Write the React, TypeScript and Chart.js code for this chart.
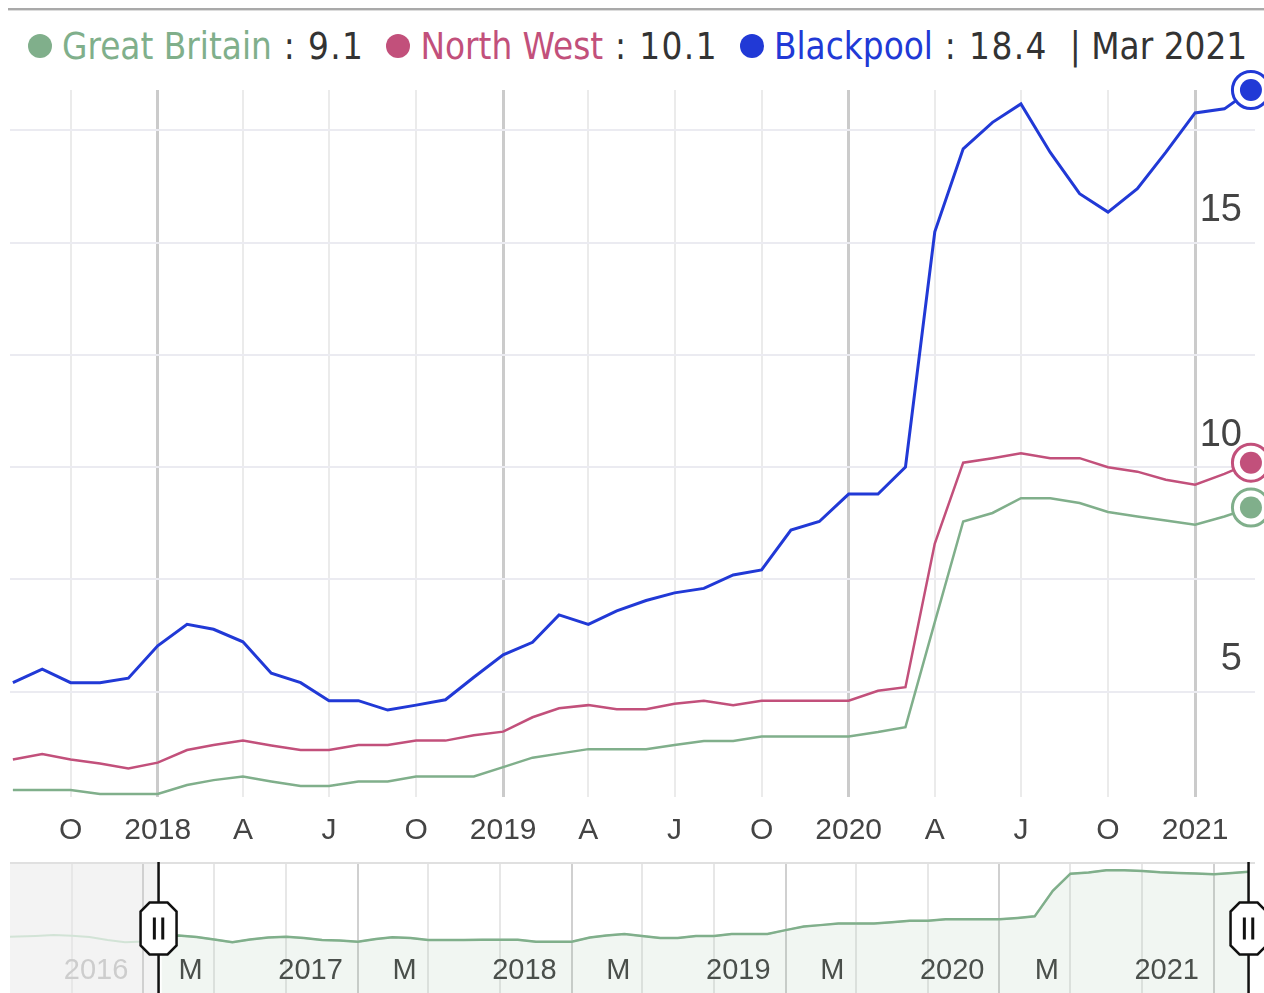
import React, { useEffect, useRef } from 'react';
import { Chart, registerables } from 'chart.js';

Chart.register(...registerables);

// ---------- data ----------
const months = [
  '2017-08', '2017-09', '2017-10', '2017-11', '2017-12',
  '2018-01', '2018-02', '2018-03', '2018-04', '2018-05', '2018-06', '2018-07', '2018-08', '2018-09', '2018-10', '2018-11', '2018-12',
  '2019-01', '2019-02', '2019-03', '2019-04', '2019-05', '2019-06', '2019-07', '2019-08', '2019-09', '2019-10', '2019-11', '2019-12',
  '2020-01', '2020-02', '2020-03', '2020-04', '2020-05', '2020-06', '2020-07', '2020-08', '2020-09', '2020-10', '2020-11', '2020-12',
  '2021-01', '2021-02', '2021-03',
];

const blackpool = [
  5.2, 5.5, 5.2, 5.2, 5.3,
  6.02, 6.5, 6.39, 6.11, 5.41, 5.2, 4.8, 4.8, 4.59, 4.7, 4.82, 5.32,
  5.82, 6.1, 6.71, 6.5, 6.8, 7.03, 7.2, 7.3, 7.6, 7.71, 8.6, 8.79,
  9.4, 9.4, 10.0, 15.24, 17.09, 17.68, 18.09, 17.01, 16.09, 15.68, 16.2, 17.01,
  17.89, 17.98, 18.4,
];

const northWest = [
  3.49, 3.61, 3.49, 3.4, 3.29,
  3.42, 3.7, 3.81, 3.91, 3.8, 3.7, 3.7, 3.81, 3.81, 3.91, 3.91, 4.03,
  4.11, 4.43, 4.63, 4.7, 4.61, 4.61, 4.73, 4.8, 4.7, 4.8, 4.8, 4.8,
  4.8, 5.02, 5.1, 8.3, 10.1, 10.2, 10.31, 10.2, 10.2, 10.0, 9.9, 9.72,
  9.61, 9.85, 10.1,
];

const greatBritain = [
  2.81, 2.81, 2.81, 2.72, 2.72,
  2.72, 2.92, 3.03, 3.11, 3.0, 2.9, 2.9, 3.0, 3.0, 3.11, 3.11, 3.11,
  3.32, 3.53, 3.62, 3.72, 3.72, 3.72, 3.81, 3.9, 3.9, 4.0, 4.0, 4.0,
  4.0, 4.1, 4.21, 6.55, 8.79, 8.98, 9.31, 9.31, 9.2, 9.0, 8.9, 8.81,
  8.72, 8.9, 9.1,
];

// earlier Great Britain history, only visible in the range navigator
const earlyMonths = [
  '2015-05', '2015-06', '2015-07', '2015-08', '2015-09', '2015-10', '2015-11', '2015-12',
  '2016-01', '2016-02', '2016-03', '2016-04', '2016-05', '2016-06', '2016-07', '2016-08', '2016-09', '2016-10', '2016-11', '2016-12',
  '2017-01', '2017-02', '2017-03', '2017-04', '2017-05', '2017-06', '2017-07',
];
const earlyGreatBritain = [
  2.95, 2.97, 3.0, 3.05, 3.02, 2.95, 2.8, 2.7,
  2.73, 2.9, 3.03, 2.95, 2.82, 2.7, 2.82, 2.93, 2.96, 2.9, 2.8, 2.78,
  2.72, 2.85, 2.94, 2.9, 2.8, 2.8, 2.8,
];

const mainTickMonths = [
  '2017-10', '2018-01', '2018-04', '2018-07', '2018-10', '2019-01', '2019-04',
  '2019-07', '2019-10', '2020-01', '2020-04', '2020-07', '2020-10', '2021-01',
];
const mainTickLabels = ['O', '2018', 'A', 'J', 'O', '2019', 'A', 'J', 'O', '2020', 'A', 'J', 'O', '2021'];

const yGridValues = [5, 7.5, 10, 12.5, 15, 17.5];
const yTickLabels = ['5', '', '10', '', '15', ''];

const navGridMonths = [
  '2015-09', '2016-01', '2016-05', '2016-09', '2017-01', '2017-05', '2017-09', '2018-01', '2018-05', '2018-09',
  '2019-01', '2019-05', '2019-09', '2020-01', '2020-05', '2020-09', '2021-01',
];
const navYearMonths = ['2016-01', '2017-01', '2018-01', '2019-01', '2020-01', '2021-01'];
const navYearLabels = ['2016', '2017', '2018', '2019', '2020', '2021'];
const navMarchMonths = ['2016-03', '2017-03', '2018-03', '2019-03', '2020-03'];
const navMarchLabels = ['M', 'M', 'M', 'M', 'M'];

const seriesNames = ['Great Britain', 'North West', 'Blackpool'];
const monthNames = ['Jan', 'Feb', 'Mar', 'Apr', 'May', 'Jun', 'Jul', 'Aug', 'Sep', 'Oct', 'Nov', 'Dec'];

// ---------- styles ----------
const GREEN = '#80af8b';
const PINK = '#c2507b';
const BLUE = '#2139d6';
const AXIS_FONT = "'Liberation Sans', Arial, sans-serif";

const dayOf = (ym: string): number => {
  const [y, m] = ym.split('-').map(Number);
  return (Date.UTC(y, m - 1, 1) - Date.UTC(2018, 0, 1)) / 86400000;
};

const MAIN_MIN = -156.05;
const MAIN_MAX = 1159.3;
const NAV_MIN = -958.5;
const NAV_MAX = 1166;
const NAV_SEL_START = -705;

const endDots = {
  id: 'endDots',
  afterDatasetsDraw(chart: any) {
    const ctx = chart.ctx;
    chart.data.datasets.forEach((ds: any, i: number) => {
      const meta = chart.getDatasetMeta(i);
      const pt = meta.data[meta.data.length - 1];
      if (!pt) return;
      ctx.save();
      ctx.beginPath();
      ctx.arc(pt.x, pt.y, 11, 0, Math.PI * 2);
      ctx.fillStyle = ds.borderColor;
      ctx.fill();
      ctx.restore();
    });
  },
};

const drawHandle = (ctx: CanvasRenderingContext2D, x: number, top: number, bottom: number) => {
  const cy = top + 66.5;
  const w = 36;
  const h = 52;
  const c = 9;
  ctx.save();
  ctx.strokeStyle = '#111';
  ctx.lineWidth = 2.5;
  ctx.beginPath();
  ctx.moveTo(x, top);
  ctx.lineTo(x, bottom);
  ctx.stroke();
  ctx.beginPath();
  ctx.moveTo(x - w / 2 + c, cy - h / 2);
  ctx.lineTo(x + w / 2 - c, cy - h / 2);
  ctx.lineTo(x + w / 2, cy - h / 2 + c);
  ctx.lineTo(x + w / 2, cy + h / 2 - c);
  ctx.lineTo(x + w / 2 - c, cy + h / 2);
  ctx.lineTo(x - w / 2 + c, cy + h / 2);
  ctx.lineTo(x - w / 2, cy + h / 2 - c);
  ctx.lineTo(x - w / 2, cy - h / 2 + c);
  ctx.closePath();
  ctx.fillStyle = '#fff';
  ctx.fill();
  ctx.stroke();
  ctx.lineWidth = 3;
  ctx.beginPath();
  ctx.moveTo(x - 4.2, cy - 11);
  ctx.lineTo(x - 4.2, cy + 11);
  ctx.moveTo(x + 4.2, cy - 11);
  ctx.lineTo(x + 4.2, cy + 11);
  ctx.stroke();
  ctx.restore();
};

const navDecor = {
  id: 'navDecor',
  beforeDraw(chart: any) {
    const { ctx, chartArea: a, scales } = chart;
    const xs = scales.x.getPixelForValue(NAV_SEL_START);
    ctx.save();
    ctx.fillStyle = '#f3f3f3';
    ctx.fillRect(a.left, a.top, xs - a.left, a.bottom - a.top);
    ctx.restore();
  },
  afterDraw(chart: any) {
    const { ctx, chartArea: a, scales } = chart;
    ctx.save();
    ctx.strokeStyle = '#e0e0e0';
    ctx.lineWidth = 2;
    ctx.beginPath();
    ctx.moveTo(a.left, a.top + 1);
    ctx.lineTo(a.right, a.top + 1);
    ctx.stroke();
    ctx.restore();
    drawHandle(ctx, scales.x.getPixelForValue(NAV_SEL_START), a.top, a.bottom);
    drawHandle(ctx, scales.x.getPixelForValue(dayOf(months[months.length - 1])), a.top, a.bottom);
  },
};

const mkSeries = (values: number[], color: string, width: number) => ({
  data: months.map((m, i) => ({ x: dayOf(m), y: values[i] })),
  borderColor: color,
  borderWidth: width,
  fill: false,
  tension: 0,
  clip: false as any,
  pointRadius: (c: any) => (c.dataIndex === values.length - 1 ? 18.5 : 0),
  pointHoverRadius: (c: any) => (c.dataIndex === values.length - 1 ? 18.5 : 0),
  pointBackgroundColor: '#fff',
  pointBorderColor: color,
  pointBorderWidth: 3,
  xAxisID: 'x',
  yAxisID: 'y',
});

const labelAxis = (tickMonths: string[], labels: string[], align: 'start' | 'end', offset: number) => ({
  type: 'linear' as const,
  axis: 'x' as const,
  position: { y: 1.123 },
  min: NAV_MIN,
  max: NAV_MAX,
  bounds: 'data' as const,
  z: 2,
  afterBuildTicks: (s: any) => {
    s.ticks = tickMonths.map((m) => ({ value: dayOf(m) }));
  },
  afterFit: (s: any) => {
    s.height = 0;
    s.paddingLeft = 0;
    s.paddingRight = 0;
  },
  grid: { display: false, drawTicks: false },
  border: { display: false },
  ticks: {
    autoSkip: false,
    maxRotation: 0,
    align,
    labelOffset: offset,
    padding: -39,
    color: (c: any) => (c.tick && c.tick.value < NAV_SEL_START ? '#cdcdcd' : '#444'),
    font: { family: AXIS_FONT, size: 29 },
    callback: (_v: any, i: number) => labels[i],
  },
});

export default function App() {
  const mainRef = useRef<HTMLCanvasElement>(null);
  const navRef = useRef<HTMLCanvasElement>(null);

  useEffect(() => {
    const main = new Chart(mainRef.current as HTMLCanvasElement, {
      type: 'line',
      data: {
        datasets: [
          { label: 'Blackpool', ...mkSeries(blackpool, BLUE, 3) },
          { label: 'North West', ...mkSeries(northWest, PINK, 2.5) },
          { label: 'Great Britain', ...mkSeries(greatBritain, GREEN, 2.5) },
        ] as any,
      },
      options: {
        responsive: false,
        animation: false,
        events: [],
        layout: { autoPadding: false, padding: { left: 10, right: 9, top: 26, bottom: 0 } },
        plugins: { legend: { display: false }, tooltip: { enabled: false } },
        scales: {
          x: {
            type: 'linear',
            min: MAIN_MIN,
            max: MAIN_MAX,
            bounds: 'data',
            afterBuildTicks: (s: any) => {
              s.ticks = mainTickMonths.map((m) => ({ value: dayOf(m) }));
            },
            afterFit: (s: any) => {
              s.height = 63;
              s.paddingLeft = 0;
              s.paddingRight = 0;
            },
            grid: {
              color: (c: any) => ((mainTickLabels[c.index] || '').length === 4 ? '#cbcbcb' : '#ebebeb'),
              lineWidth: (c: any) => ((mainTickLabels[c.index] || '').length === 4 ? 3 : 2),
              drawTicks: false,
            },
            border: { display: false },
            ticks: {
              autoSkip: false,
              maxRotation: 0,
              padding: 16,
              color: '#444',
              font: { family: AXIS_FONT, size: 30 },
              callback: (_v: any, i: number) => mainTickLabels[i],
            },
          },
          y: {
            type: 'linear',
            position: 'right',
            min: 2.654,
            max: 18.4,
            bounds: 'data',
            afterBuildTicks: (s: any) => {
              s.ticks = yGridValues.map((v) => ({ value: v }));
            },
            afterFit: (s: any) => {
              s.width = 0;
              s.paddingTop = 0;
              s.paddingBottom = 0;
            },
            grid: { color: '#ebebf1', lineWidth: 2, drawTicks: false },
            border: { display: false },
            ticks: {
              mirror: true,
              padding: -13,
              labelOffset: -32,
              color: '#444',
              font: { family: AXIS_FONT, size: 38 },
              callback: (_v: any, i: number) => yTickLabels[i],
            },
          },
        },
      } as any,
      plugins: [endDots],
    });

    const allGB = [
      ...earlyMonths.map((m, i) => ({ x: dayOf(m), y: earlyGreatBritain[i] })),
      ...months.map((m, i) => ({ x: dayOf(m), y: greatBritain[i] })),
    ];
    const selectedGB = allGB.filter((p) => p.x >= NAV_SEL_START);

    const nav = new Chart(navRef.current as HTMLCanvasElement, {
      type: 'line',
      data: {
        datasets: [
          {
            data: selectedGB,
            borderColor: GREEN,
            borderWidth: 2.5,
            pointRadius: 0,
            fill: 'start',
            backgroundColor: 'rgba(128,175,139,0.11)',
            tension: 0,
            xAxisID: 'x',
            yAxisID: 'y',
          },
          {
            data: allGB,
            borderColor: '#d2e3d6',
            borderWidth: 2,
            pointRadius: 0,
            fill: false,
            tension: 0,
            xAxisID: 'x',
            yAxisID: 'y',
          },
        ] as any,
      },
      options: {
        responsive: false,
        animation: false,
        events: [],
        layout: { autoPadding: false, padding: { left: 10, right: 9, top: 0, bottom: 0 } },
        plugins: { legend: { display: false }, tooltip: { enabled: false } },
        scales: {
          x: {
            type: 'linear',
            position: 'bottom',
            min: NAV_MIN,
            max: NAV_MAX,
            bounds: 'data',
            afterBuildTicks: (s: any) => {
              s.ticks = navGridMonths.map((m) => ({ value: dayOf(m) }));
            },
            afterFit: (s: any) => {
              s.height = 0;
              s.paddingLeft = 0;
              s.paddingRight = 0;
            },
            grid: {
              color: (c: any) => (navGridMonths[c.index] && navGridMonths[c.index].endsWith('-01') ? '#d0d0d0' : '#e7e7e7'),
              lineWidth: 2,
              drawTicks: false,
            },
            border: { display: false },
            ticks: { display: false },
          },
          years: labelAxis(navYearMonths, navYearLabels, 'end', -15),
          marches: labelAxis(navMarchMonths, navMarchLabels, 'start', 0),
          y: {
            type: 'logarithmic',
            min: 1.123,
            max: 10.75,
            bounds: 'data',
            display: false,
          },
        },
      } as any,
      plugins: [navDecor],
    });

    return () => {
      main.destroy();
      nav.destroy();
    };
  }, []);

  const legendItems = [
    { name: seriesNames[0], color: GREEN, value: greatBritain[greatBritain.length - 1] },
    { name: seriesNames[1], color: PINK, value: northWest[northWest.length - 1] },
    { name: seriesNames[2], color: BLUE, value: blackpool[blackpool.length - 1] },
  ];
  const last = months[months.length - 1].split('-').map(Number);
  const lastLabel = `${monthNames[last[1] - 1]} ${last[0]}`;

  return (
    <div style={{ position: 'absolute', left: 0, top: 0, width: 1264, height: 993, background: '#fff', overflow: 'hidden' }}>
      <div style={{ position: 'absolute', left: 8, top: 8, right: 0, height: 2, background: '#a9a9a9' }} />
      <div style={{ position: 'absolute', left: 8, top: 10, right: 0, height: 1, background: '#dcdcdc' }} />
      <div
        style={{
          position: 'absolute',
          left: 28,
          top: 28,
          height: 36,
          display: 'flex',
          alignItems: 'center',
          whiteSpace: 'nowrap',
          fontFamily: "'DejaVu Sans Condensed', 'DejaVu Sans', sans-serif",
          fontSize: 36.5,
          color: '#333',
        }}
      >
        {legendItems.map((it) => (
          <span key={it.name} style={{ display: 'flex', alignItems: 'center', marginRight: 22 }}>
            <span style={{ width: 24, height: 24, borderRadius: 12, background: it.color, marginRight: 10, display: 'inline-block' }} />
            <span style={{ color: it.color }}>{it.name}</span>
            <span style={{ letterSpacing: 1.4 }}>{'\u00a0:\u00a0' + it.value.toFixed(1)}</span>
          </span>
        ))}
        <span>{'| ' + lastLabel}</span>
      </div>
      <canvas ref={mainRef} width={1264} height={796} style={{ position: 'absolute', left: 0, top: 64, width: 1264, height: 796 }} />
      <canvas ref={navRef} width={1264} height={131} style={{ position: 'absolute', left: 0, top: 862, width: 1264, height: 131 }} />
    </div>
  );
}
